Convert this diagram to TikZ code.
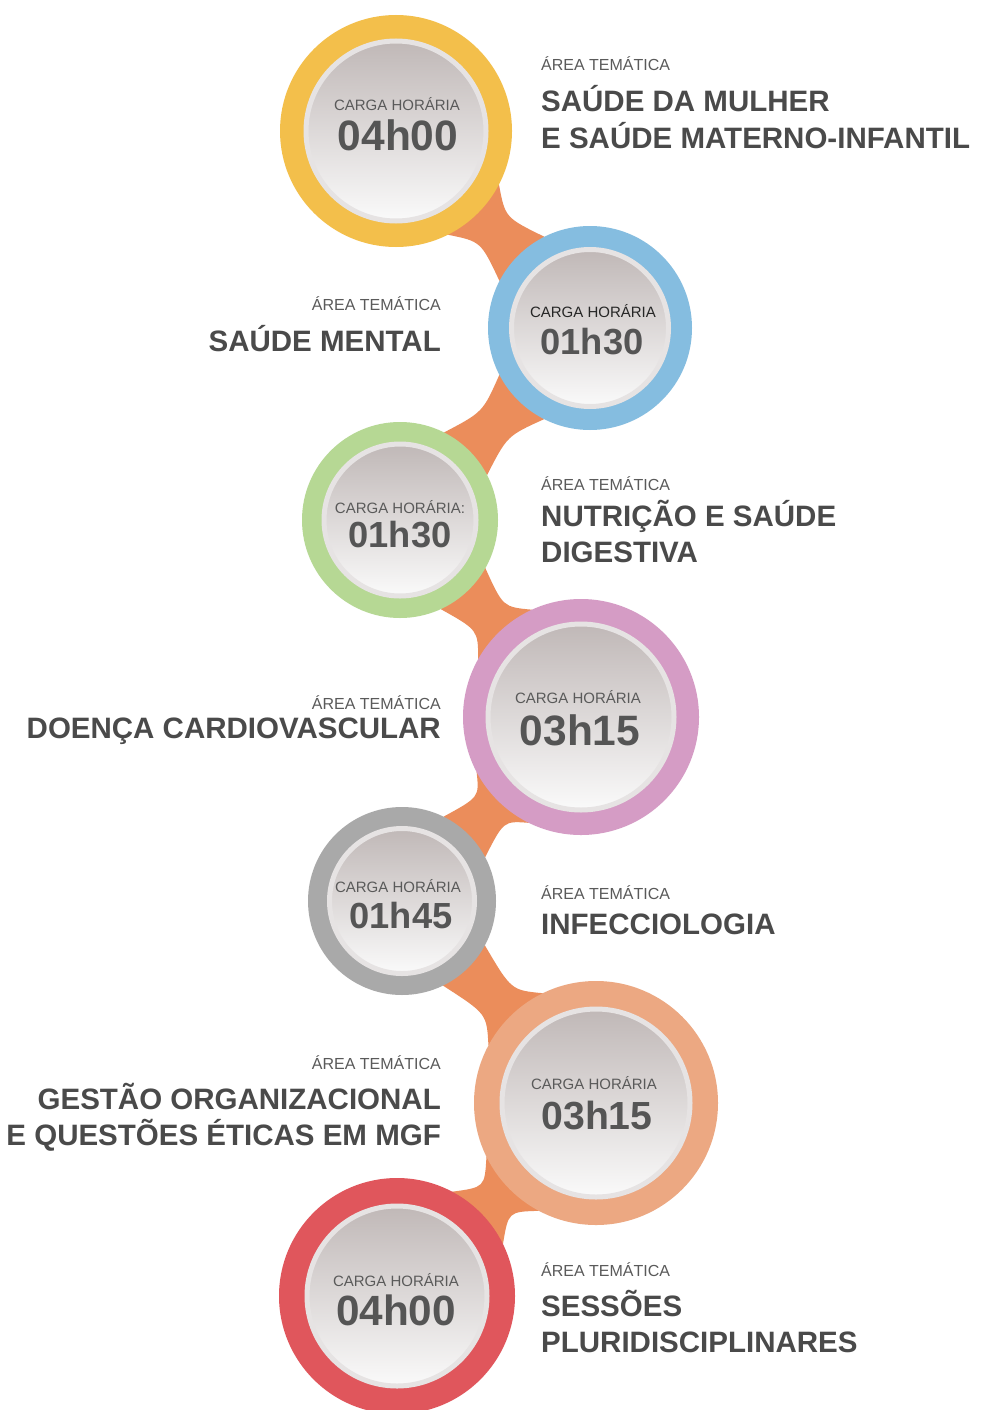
\documentclass[tikz,border=0pt]{standalone}
\usepackage{fontspec}
\setmainfont{Liberation Sans}
\usetikzlibrary{calc,backgrounds}

\definecolor{ringyellow}{HTML}{F3BF4B}
\definecolor{ringblue}{HTML}{85BDE0}
\definecolor{ringgreen}{HTML}{B6D894}
\definecolor{ringpink}{HTML}{D59CC5}
\definecolor{ringgray}{HTML}{A9A9A9}
\definecolor{ringsalmon}{HTML}{ECA882}
\definecolor{ringred}{HTML}{E0565C}
\definecolor{bridgeorange}{HTML}{EB8D5B}
\definecolor{diskgray}{HTML}{C0B8B7}
\definecolor{diskwhite}{HTML}{FAFAFA}
\definecolor{rimgray}{HTML}{E6E3E3}
\definecolor{labelgray}{HTML}{5A5A5A}
\definecolor{hourgray}{HTML}{555555}
\definecolor{headgray}{HTML}{4A4A4A}

\tikzset{
  ring/.style={circle, inner sep=0, outer sep=0},
  disk/.style={circle, inner sep=0, outer sep=0, draw=rimgray, line width=5pt,
    top color=diskgray, bottom color=diskwhite},
  carga/.style={font=\fontsize{15}{18}\selectfont, text=labelgray, inner sep=0, anchor=base},
  hours/.style={font=\bfseries\fontsize{#1}{#1}\selectfont, text=hourgray, inner sep=0, anchor=base},
  area/.style={font=\fontsize{16}{19}\selectfont, text=labelgray, inner sep=0},
  tema/.style={font=\bfseries\fontsize{29.5}{36}\selectfont, text=headgray, inner sep=0},
}

% bridge between two rings: names, radii
\newcommand\bridge[4]{%
  \coordinate (mid) at ($(#1.center)!.5!(#2.center)$);
  \fill[bridgeorange] ($(#1.center)!#3!18:(#2.center)$) .. controls ($(mid)!17pt!90:(#2.center)$) .. ($(#2.center)!#4!-18:(#1.center)$)
    -- ($(#2.center)!#4!18:(#1.center)$) .. controls ($(mid)!17pt!-90:(#2.center)$) .. ($(#1.center)!#3!-18:(#2.center)$) -- cycle;}

\begin{document}
\begin{tikzpicture}[x=1pt,y=-1pt]

\useasboundingbox (0,0) rectangle (988,1410);
\clip (0,0) rectangle (988,1410);

\node[ring, fill=ringyellow, minimum size=232] (c1) at (396,131) {};
\node[disk, minimum size=180] (d1) at (c1) {};
\node[carga] (g1) at (397,111) {CARGA HORÁRIA};
\node[hours=42.5] (h1) at (398,150) {04h00};

\node[ring, fill=ringblue, minimum size=204] (c2) at (590,328) {};
\node[disk, minimum size=157] (d2) at (c2) {};
\node[carga, text=black!85] (g2) at (593,317) {CARGA HORÁRIA};
\node[hours=36.3] (h2) at (592,354) {01h30};

\node[ring, fill=ringgreen, minimum size=196] (c3) at (400,520) {};
\node[disk, minimum size=152] (d3) at (c3) {};
\node[carga] (g3) at (400,513) {CARGA HORÁRIA:};
\node[hours=36.3] (h3) at (400,547) {01h30};

\node[ring, fill=ringpink, minimum size=236] (c4) at (581,717) {};
\node[disk, minimum size=186] (d4) at (c4) {};
\node[carga] (g4) at (578,703) {CARGA HORÁRIA};
\node[hours=42.5] (h4) at (580,745) {03h15};

\node[ring, fill=ringgray, minimum size=188] (c5) at (402,901) {};
\node[disk, minimum size=145] (d5) at (c5) {};
\node[carga] (g5) at (398,892) {CARGA HORÁRIA};
\node[hours=36.3] (h5) at (401,928) {01h45};

\node[ring, fill=ringsalmon, minimum size=244] (c6) at (596,1103) {};
\node[disk, minimum size=188] (d6) at (c6) {};
\node[carga] (g6) at (594,1089) {CARGA HORÁRIA};
\node[hours=39.2] (h6) at (597,1129) {03h15};

\node[ring, fill=ringred, minimum size=236] (c7) at (397,1296) {};
\node[disk, minimum size=180] (d7) at (c7) {};
\node[carga] (g7) at (396,1286) {CARGA HORÁRIA};
\node[hours=42.3] (h7) at (396,1325) {04h00};

\begin{scope}[on background layer]
\fill[white] (0,0) rectangle (988,1410);
\bridge{c1}{c2}{116pt}{102pt}
\bridge{c2}{c3}{102pt}{98pt}
\bridge{c3}{c4}{98pt}{118pt}
\bridge{c4}{c5}{118pt}{94pt}
\bridge{c5}{c6}{94pt}{122pt}
\bridge{c6}{c7}{122pt}{118pt}
\end{scope}

\node[area, anchor=base west] (a1) at (541,71) {ÁREA TEMÁTICA};
\node[tema, anchor=base west, align=left] (t1) at (541,148) {SAÚDE DA MULHER\\E SAÚDE MATERNO-INFANTIL};

\node[area, anchor=base east] (a2) at (441,310) {ÁREA TEMÁTICA};
\node[tema, anchor=base east, align=right] (t2) at (441,351) {SAÚDE MENTAL};

\node[area, anchor=base west] (a3) at (541,490) {ÁREA TEMÁTICA};
\node[tema, anchor=base west, align=left] (t3) at (541,562) {NUTRIÇÃO E SAÚDE\\DIGESTIVA};

\node[area, anchor=base east] (a4) at (441,709) {ÁREA TEMÁTICA};
\node[tema, anchor=base east, align=right] (t4) at (441,738) {DOENÇA CARDIOVASCULAR};

\node[area, anchor=base west] (a5) at (541,899) {ÁREA TEMÁTICA};
\node[tema, anchor=base west, align=left] (t5) at (541,934) {INFECCIOLOGIA};

\node[area, anchor=base east] (a6) at (441,1069) {ÁREA TEMÁTICA};
\node[tema, anchor=base east, align=right] (t6) at (441,1145) {GESTÃO ORGANIZACIONAL\\E QUESTÕES ÉTICAS EM MGF};

\node[area, anchor=base west] (a7) at (541,1276) {ÁREA TEMÁTICA};
\node[tema, anchor=base west, align=left] (t7) at (541,1352) {SESSÕES\\PLURIDISCIPLINARES};

\end{tikzpicture}
\end{document}
